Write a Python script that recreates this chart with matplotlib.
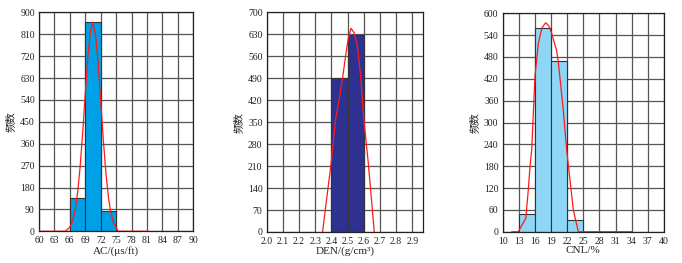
import matplotlib
matplotlib.use("Agg")
import matplotlib.pyplot as plt

plt.rcParams['font.family'] = ['Liberation Serif', 'Noto Sans CJK SC']

# AC panel
ac_bins = [66, 69, 72, 75]
ac_counts = [138, 862, 84]
ac_curve_x = [60, 65, 65.5, 66, 66.5, 67, 67.5, 68, 68.5, 69, 69.5, 70, 70.45,
              71, 71.5, 72, 72.5, 73, 73.5, 74, 74.5, 75, 75.4, 81]
ac_curve_y = [0, 0, 7, 18, 41, 84, 157, 266, 408, 568, 718, 823, 857,
              808, 691, 536, 377, 241, 139, 73, 35, 15, 0, 0]
ac_xticks = list(range(60, 91, 3))
ac_yticks = list(range(0, 901, 90))

# DEN panel
den_bins = [2.4, 2.5, 2.6]
den_counts = [490, 628]
den_curve_x = [2.345, 2.398, 2.425, 2.45, 2.47, 2.49, 2.505, 2.521, 2.54, 2.56,
               2.58, 2.60, 2.628, 2.665]
den_curve_y = [0, 219, 357, 430, 495, 570, 620, 649, 635, 595,
               500, 360, 219, 0]
den_xticks = [2.0, 2.1, 2.2, 2.3, 2.4, 2.5, 2.6, 2.7, 2.8, 2.9]
den_yticks = list(range(0, 701, 70))

# CNL panel
cnl_bins = [13, 16, 19, 22, 25]
cnl_counts = [50, 560, 470, 31]
cnl_curve_x = [11.7, 12.9, 14.3, 14.76, 15.08, 15.39, 16.0, 16.62, 17.3, 17.99, 18.6, 19.1,
               20.0, 20.3, 21.27, 21.9, 22.08, 23.13, 24.06, 34]
cnl_curve_y = [0, 0, 37, 115, 179, 224, 426, 517, 560, 574, 565, 545,
               499, 472, 334, 224, 200, 60, 0, 0]
cnl_xticks = list(range(10, 41, 3))
cnl_yticks = list(range(0, 601, 60))

fig = plt.figure(figsize=(6.82, 2.63), dpi=100)

panels = [
    ([0.0572, 0.1205, 0.2262, 0.8327], ac_bins, ac_counts, ac_curve_x, ac_curve_y,
     ac_xticks, ac_yticks, (60, 90), (0, 900), '#00a0e6', 'AC/(μs/ft)', [str(t) for t in ac_xticks]),
    ([0.3911, 0.1179, 0.2296, 0.8353], den_bins, den_counts, den_curve_x, den_curve_y,
     den_xticks, den_yticks, (2.0, 2.968), (0, 700), '#2e3192', 'DEN/(g/cm³)', ['%.1f' % t for t in den_xticks]),
    ([0.7371, 0.1190, 0.2365, 0.8304], cnl_bins, cnl_counts, cnl_curve_x, cnl_curve_y,
     cnl_xticks, cnl_yticks, (10, 40), (0, 600), '#8dd6f6', 'CNL/%', [str(t) for t in cnl_xticks]),
]

for rect, bins, counts, cx, cy, xt, yt, xl, yl, col, xlabel, xtl in panels:
    ax = fig.add_axes(rect)
    ax.set_axisbelow(True)
    widths = [bins[i + 1] - bins[i] for i in range(len(counts))]
    ax.bar(bins[:-1], counts, width=widths, align='edge', color=col,
           edgecolor='#333333', linewidth=0.8, zorder=2)
    ax.plot(cx, cy, color='#ff1a1a', lw=0.9, zorder=3)
    ax.set_xlim(*xl)
    ax.set_ylim(*yl)
    ax.set_xticks(xt)
    ax.set_xticklabels(xtl)
    ax.set_yticks(yt)
    ax.grid(True, color='#555555', lw=0.9)
    ax.tick_params(axis='x', length=0, pad=3.5, labelsize=7, colors='#222222')
    ax.tick_params(axis='y', length=0, pad=3, labelsize=7, colors='#222222')
    for s in ax.spines.values():
        s.set_color('#222222')
        s.set_linewidth(0.9)
    ax.set_xlabel(xlabel, fontsize=8, labelpad=0.5, color='#222222')
    ax.set_ylabel('频数', fontsize=7.5, labelpad=3, color='#222222',
                  family=['Noto Sans CJK SC', 'DejaVu Sans'])

fig.savefig('out.png', dpi=100)
